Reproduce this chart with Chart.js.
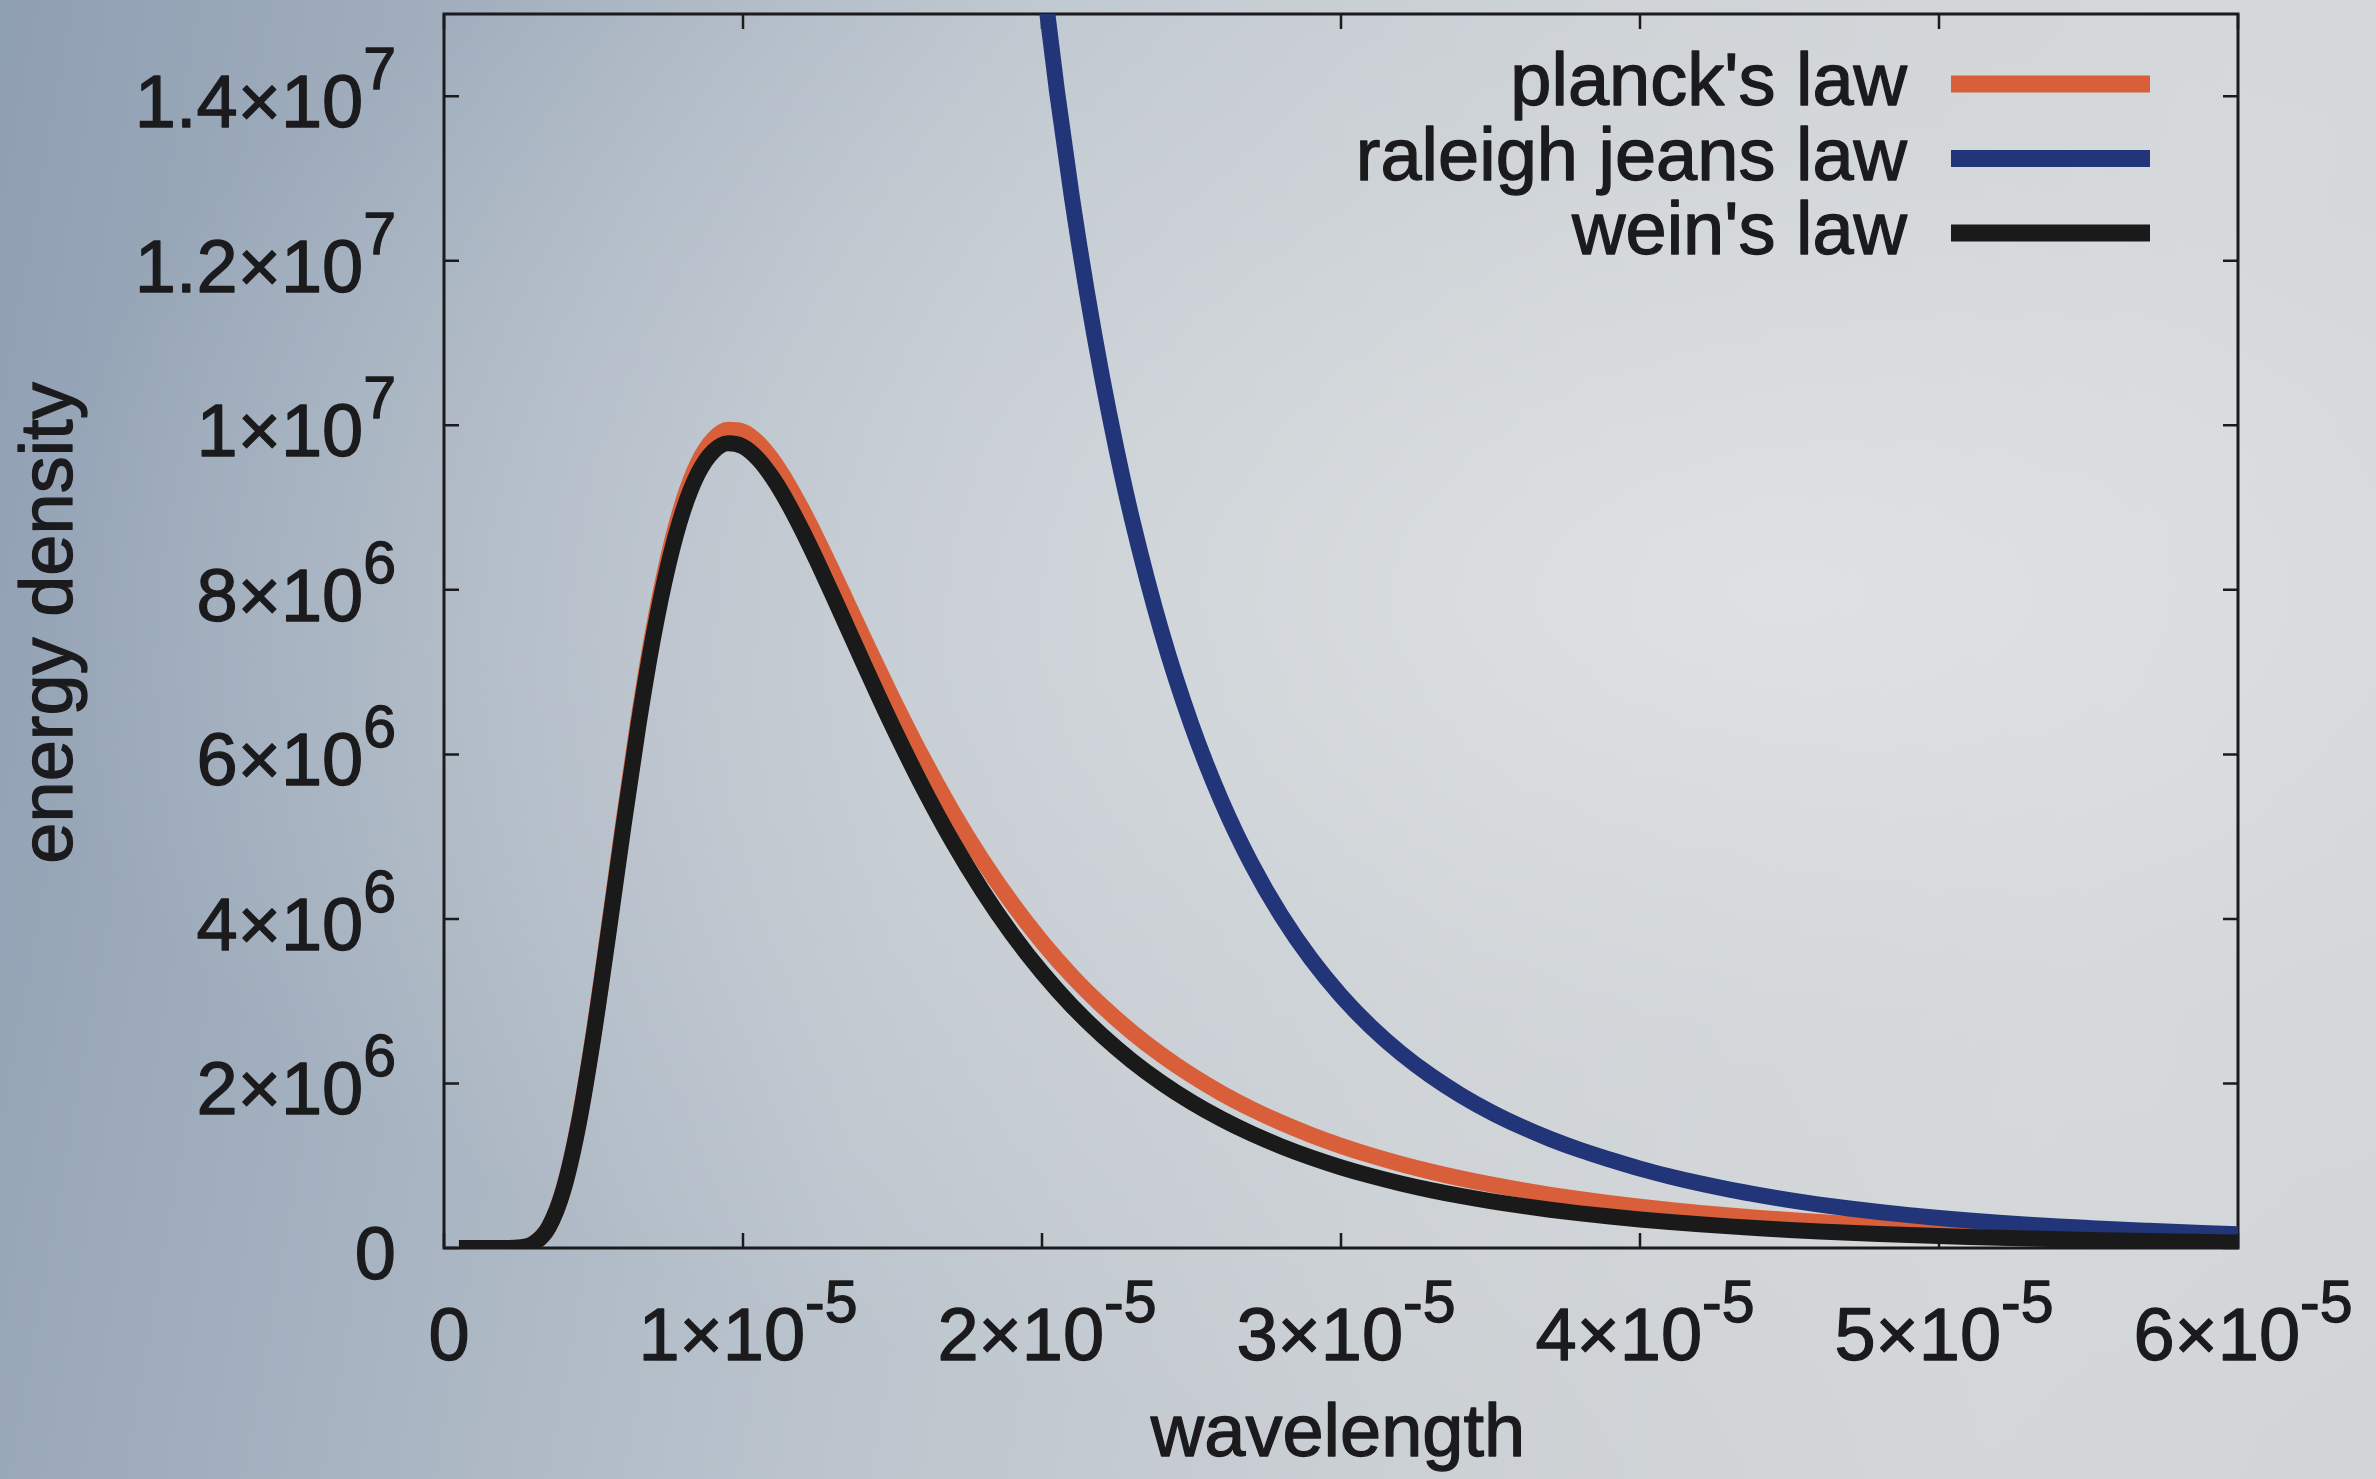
<!DOCTYPE html>
<html>
<head>
<meta charset="utf-8">
<title>planck vs raleigh jeans vs wein</title>
<script src="https://cdn.jsdelivr.net/npm/chart.js@4.4.1/dist/chart.umd.min.js"></script>
<style>
  html, body { margin: 0; padding: 0; width: 2376px; height: 1479px; overflow: hidden; }
  body {
    background:
      radial-gradient(ellipse at 75% 40%, rgba(225,228,229,0.85) 0%, rgba(215,219,222,0.5) 35%, rgba(200,206,212,0) 70%),
      linear-gradient(100deg, #8f9fb2 0%, #a2afbe 18%, #bbc4cd 40%, #cbd0d4 62%, #d4d7d9 85%, #d2d5d7 100%);
  }
  canvas { display: block; }
</style>
</head>
<body>
<canvas id="c" width="2376" height="1479"></canvas>
<script>
// ---------- data ----------
const wavelength = [
  0.5e-6, 1e-6, 1.5e-6, 2e-6, 2.5e-6, 3e-6, 3.5e-6, 4e-6, 4.5e-6, 5e-6,
  5.5e-6, 6e-6, 6.5e-6, 7e-6, 7.5e-6, 8e-6, 8.5e-6, 9e-6, 9.5e-6, 10e-6,
  10.5e-6, 11e-6, 11.5e-6, 12e-6, 12.5e-6, 13e-6, 13.5e-6, 14e-6, 14.5e-6, 15e-6,
  16e-6, 17e-6, 18e-6, 19e-6, 20e-6, 21e-6, 22e-6, 23e-6, 24e-6, 25e-6,
  26e-6, 27e-6, 28e-6, 29e-6, 30e-6, 31e-6, 32e-6, 33e-6, 34e-6, 35e-6,
  36e-6, 37e-6, 38e-6, 39e-6, 40e-6, 41e-6, 42e-6, 43e-6, 44e-6, 45e-6,
  46e-6, 47e-6, 48e-6, 49e-6, 50e-6, 51e-6, 52e-6, 53e-6, 54e-6, 55e-6,
  56e-6, 57e-6, 58e-6, 59e-6, 60e-6
];
const planckLaw = [
  0, 0, 0, 140, 5700, 55900, 254000, 722000, 1518000, 2603000,
  3866000, 5176000, 6418000, 7509000, 8398000, 9077000, 9547000, 9828000, 9946000, 9923000,
  9791000, 9572000, 9290000, 8961000, 8601000, 8222000, 7834000, 7445000, 7060000, 6683000,
  5967000, 5310000, 4718000, 4190000, 3722000, 3308000, 2946000, 2626000, 2346000, 2099000,
  1882000, 1691000, 1523000, 1374000, 1242000, 1125000, 1021000, 928600, 846000, 772200,
  706100, 646700, 593500, 545500, 502000, 462800, 427300, 395100, 365800, 339100,
  314900, 292700, 272400, 253800, 236800, 221200, 206800, 193500, 181300, 170000,
  159600, 150000, 141100, 132900, 125100
];
const weinLaw = [
  0, 0, 0, 139, 5640, 55300, 251500, 714800, 1502800, 2577000,
  3826000, 5122000, 6350000, 7426000, 8300000, 8963000, 9418000, 9682000, 9783000, 9743000,
  9592000, 9356000, 9055000, 8708000, 8331000, 7937000, 7534000, 7131000, 6733000, 6346000,
  5612000, 4944000, 4346000, 3815000, 3349000, 2941000, 2587000, 2277000, 2008000, 1773000,
  1569000, 1391000, 1236000, 1100000, 981000, 876700, 785100, 704400, 633200, 570200,
  514600, 465100, 421200, 382100, 347200, 315900, 288000, 262900, 240400, 220100,
  201900, 185300, 170400, 156800, 144500, 133500, 123300, 114000, 105600, 97900,
  90900, 84400, 78600, 73200, 68200
];
const rjWavelength = [
  18e-6, 19e-6, 19.5e-6, 20e-6, 20.5e-6, 21e-6, 21.5e-6, 22e-6, 22.5e-6, 23e-6,
  24e-6, 25e-6, 26e-6, 27e-6, 28e-6, 29e-6, 30e-6, 31e-6, 32e-6, 33e-6,
  34e-6, 35e-6, 36e-6, 37e-6, 38e-6, 39e-6, 40e-6, 41e-6, 42e-6, 43e-6,
  44e-6, 45e-6, 46e-6, 47e-6, 48e-6, 49e-6, 50e-6, 51e-6, 52e-6, 53e-6,
  54e-6, 55e-6, 56e-6, 57e-6, 58e-6, 59e-6, 60e-6
];
const raleighJeansLaw = [
  23660000, 19060000, 17180000, 15525000, 14065000, 12772000, 11625000, 10604000, 9692000, 8876000,
  7487000, 6359000, 5436000, 4674000, 4041000, 3512000, 3067000, 2690000, 2369000, 2095000,
  1859000, 1655000, 1479000, 1325000, 1191000, 1074000, 965000, 870000, 785000, 710000,
  643000, 582000, 528000, 480000, 438000, 400000, 365000, 335000, 308000, 284000,
  262000, 243000, 225000, 209000, 194000, 180000, 167000
];
const seriesLabels = ["planck's law", "raleigh jeans law", "wein's law"];

const xTickValues = [0, 1e-5, 2e-5, 3e-5, 4e-5, 5e-5, 6e-5];
const xTickBase = ['0', '1\u00d710', '2\u00d710', '3\u00d710', '4\u00d710', '5\u00d710', '6\u00d710'];
const xTickExp = ['', '-5', '-5', '-5', '-5', '-5', '-5'];
const yTickValues = [0, 2e6, 4e6, 6e6, 8e6, 1e7, 1.2e7, 1.4e7];
const yTickBase = ['0', '2\u00d710', '4\u00d710', '6\u00d710', '8\u00d710', '1\u00d710', '1.2\u00d710', '1.4\u00d710'];
const yTickExp = ['', '6', '6', '6', '6', '7', '7', '7'];
const xTitle = 'wavelength';
const yTitle = 'energy density';

// ---------- styling ----------
const INK = '#1b1b1d';
const ORANGE = '#d95f3b';
const BLUE = '#223578';
const BLACK = '#1a1a1a';
const FONT = '"Liberation Sans", Arial, Helvetica, sans-serif';
const BASE_PX = 74, SUP_PX = 59, TICK_LEN = 15, TEXT_STROKE = 1.3;

function pts(xs, ys) { return xs.map((x, i) => ({ x: x, y: ys[i] })); }

function txt(ctx, s, x, y) {
  ctx.fillText(s, x, y);
  ctx.strokeText(s, x, y);
}

function drawSupLabel(ctx, base, sup, xPos, baseline, align) {
  ctx.font = BASE_PX + 'px ' + FONT;
  const bw = ctx.measureText(base).width;
  ctx.font = SUP_PX + 'px ' + FONT;
  const sw = sup ? ctx.measureText(sup).width : 0;
  const total = bw + sw;
  const start = align === 'right' ? xPos - total : xPos - total / 2;
  ctx.textAlign = 'left';
  ctx.textBaseline = 'alphabetic';
  ctx.font = BASE_PX + 'px ' + FONT;
  txt(ctx, base, start, baseline);
  if (sup) {
    ctx.font = SUP_PX + 'px ' + FONT;
    txt(ctx, sup, start + bw, baseline - 38);
  }
}

const gnuplotFrame = {
  id: 'gnuplotFrame',
  beforeDatasetsDraw(chart) {
    const { ctx, chartArea: a, scales: { x, y } } = chart;
    ctx.save();
    ctx.strokeStyle = INK;
    ctx.lineWidth = 2.5;
    ctx.beginPath();
    xTickValues.forEach(v => {
      const px = x.getPixelForValue(v);
      ctx.moveTo(px, a.bottom); ctx.lineTo(px, a.bottom - TICK_LEN);
      ctx.moveTo(px, a.top); ctx.lineTo(px, a.top + TICK_LEN);
    });
    yTickValues.forEach(v => {
      const py = y.getPixelForValue(v);
      ctx.moveTo(a.left, py); ctx.lineTo(a.left + TICK_LEN, py);
      ctx.moveTo(a.right, py); ctx.lineTo(a.right - TICK_LEN, py);
    });
    ctx.stroke();
    ctx.lineWidth = 3;
    ctx.strokeRect(a.left, a.top, a.right - a.left, a.bottom - a.top);
    ctx.restore();
  },
  afterDraw(chart) {
    const { ctx, chartArea: a, scales: { x, y } } = chart;
    ctx.save();
    ctx.fillStyle = INK;
    ctx.strokeStyle = INK;
    ctx.lineWidth = TEXT_STROKE;
    ctx.lineJoin = 'round';
    // y tick labels
    yTickValues.forEach((v, i) => {
      const py = y.getPixelForValue(v);
      drawSupLabel(ctx, yTickBase[i], yTickExp[i], a.left - 48, py + 31, 'right');
    });
    // x tick labels
    xTickValues.forEach((v, i) => {
      const px = x.getPixelForValue(v);
      drawSupLabel(ctx, xTickBase[i], xTickExp[i], px + 5, a.bottom + 112, 'center');
    });
    // axis titles
    ctx.font = BASE_PX + 'px ' + FONT;
    ctx.textAlign = 'center';
    ctx.textBaseline = 'alphabetic';
    txt(ctx, xTitle, (a.left + a.right) / 2 - 3, 1456);
    ctx.save();
    ctx.translate(52, (a.top + a.bottom) / 2 - 8);
    ctx.rotate(-Math.PI / 2);
    ctx.textBaseline = 'middle';
    txt(ctx, yTitle, 0, 0);
    ctx.restore();
    // key (gnuplot style, top right, text right-aligned left of sample)
    const ds = chart.data.datasets;
    ctx.font = BASE_PX + 'px ' + FONT;
    ctx.textAlign = 'right';
    ctx.textBaseline = 'alphabetic';
    ds.forEach((d, i) => {
      const rowY = 84 + i * 74.5;
      ctx.fillStyle = INK;
      ctx.strokeStyle = INK;
      ctx.lineWidth = TEXT_STROKE;
      txt(ctx, d.label, 1907, rowY + 21);
      ctx.strokeStyle = d.borderColor;
      ctx.lineWidth = 17;
      ctx.lineCap = 'butt';
      ctx.beginPath();
      ctx.moveTo(1951, rowY);
      ctx.lineTo(2150, rowY);
      ctx.stroke();
    });
    ctx.restore();
  }
};

new Chart(document.getElementById('c').getContext('2d'), {
  type: 'line',
  data: {
    datasets: [
      { label: seriesLabels[0], data: pts(wavelength, planckLaw), borderColor: ORANGE, borderWidth: 16,
        pointRadius: 0, cubicInterpolationMode: 'monotone', fill: false, order: 3, borderJoinStyle: 'round' },
      { label: seriesLabels[1], data: pts(rjWavelength, raleighJeansLaw), borderColor: BLUE, borderWidth: 16,
        pointRadius: 0, cubicInterpolationMode: 'monotone', fill: false, order: 2, clip: 0, borderJoinStyle: 'round' },
      { label: seriesLabels[2], data: pts(wavelength, weinLaw), borderColor: BLACK, borderWidth: 16,
        pointRadius: 0, cubicInterpolationMode: 'monotone', fill: false, order: 1, borderJoinStyle: 'round' }
    ]
  },
  options: {
    responsive: false,
    animation: false,
    events: [],
    layout: { padding: { left: 444, right: 138, top: 14, bottom: 231 } },
    scales: {
      x: { type: 'linear', min: 0, max: 6e-5, display: false },
      y: { type: 'linear', min: 0, max: 1.5e7, display: false }
    },
    plugins: { legend: { display: false }, tooltip: { enabled: false } }
  },
  plugins: [gnuplotFrame]
});
</script>
</body>
</html>
